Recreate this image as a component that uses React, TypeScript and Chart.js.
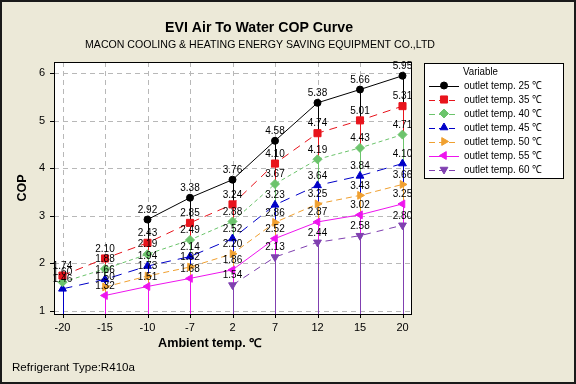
import { useEffect, useRef } from 'react';
import { Chart, registerables } from 'chart.js';
import { drawPoint } from 'chart.js/helpers';
Chart.register(...registerables);

// ---- data ----
const categories = ['-20', '-15', '-10', '-7', '2', '7', '12', '15', '20'];
const yTickValues = [1, 2, 3, 4, 5, 6];
const seriesNames = [
  'outlet temp. 25 ℃',
  'outlet temp. 35 ℃',
  'outlet temp. 40 ℃',
  'outlet temp. 45 ℃',
  'outlet temp. 50 ℃',
  'outlet temp. 55 ℃',
  'outlet temp. 60 ℃',
];
const cop25 = [null, null, 2.92, 3.38, 3.76, 4.58, 5.38, 5.66, 5.95];
const cop35 = [1.74, 2.10, 2.43, 2.85, 3.24, 4.10, 4.74, 5.01, 5.31];
const cop40 = [1.60, 1.88, 2.19, 2.49, 2.88, 3.67, 4.19, 4.43, 4.71];
const cop45 = [1.46, 1.66, 1.94, 2.14, 2.52, 3.23, 3.64, 3.84, 4.10];
const cop50 = [null, 1.50, 1.73, 1.92, 2.20, 2.86, 3.25, 3.43, 3.66];
const cop55 = [null, 1.32, 1.51, 1.68, 1.86, 2.52, 2.87, 3.02, 3.25];
const cop60 = [null, null, null, null, 1.54, 2.13, 2.44, 2.58, 2.80];
const allSeries = [cop25, cop35, cop40, cop45, cop50, cop55, cop60];

const titleText = 'EVI Air To Water COP Curve';
const subtitleText = 'MACON COOLING & HEATING ENERGY SAVING EQUIPMENT CO.,LTD';
const xTitle = 'Ambient temp. ℃';
const yTitle = 'COP';
const footerText = 'Refrigerant Type:R410a';
const legendTitle = 'Variable';

// ---- styles ----
const STYLE = {
  colors: ['#000000', '#E8141C', '#6CC46C', '#0000C8', '#F0A030', '#EE14EE', '#8040B0'],
  dashes: [[], [8, 6], [4, 3], [10, 7], [6, 4], [], [7, 6]],
  points: ['circle', 'rect', 'rectRot', 'triangle', 'triangle', 'triangle', 'triangle'],
  rotations: [0, 0, 0, 0, 90, -90, 180],
  radii: [3.5, 5, 4.5, 4.5, 4.5, 4.5, 4.5],
};

const FONT = '"Liberation Sans", Arial, sans-serif';

function drawText(ctx: CanvasRenderingContext2D, text: string, x: number, y: number, font: string,
  align: CanvasTextAlign, targetW?: number, color = '#000') {
  ctx.save();
  ctx.font = font;
  ctx.fillStyle = color;
  ctx.textBaseline = 'middle';
  ctx.textAlign = align;
  const w = ctx.measureText(text).width;
  const sx = targetW ? targetW / w : 1;
  ctx.translate(x, y);
  ctx.scale(sx, 1);
  ctx.fillText(text, 0, 0);
  ctx.restore();
}

const decorPlugin = {
  id: 'decor',
  beforeDraw(chart: any) {
    const { ctx, chartArea: a, width, height } = chart;
    ctx.save();
    ctx.fillStyle = '#ECE9D8';
    ctx.fillRect(0, 0, width, height);
    ctx.strokeStyle = '#1a1a1a';
    ctx.lineWidth = 2;
    ctx.strokeRect(1, 1, width - 2, height - 2);
    ctx.fillStyle = '#FFFFFF';
    ctx.fillRect(a.left, a.top, a.right - a.left, a.bottom - a.top);

    // grid
    const xs = chart.scales.x;
    const ys = chart.scales.y;
    ctx.strokeStyle = '#B8B8B8';
    ctx.lineWidth = 1;
    ctx.setLineDash([5, 4]);
    yTickValues.forEach((v) => {
      const py = Math.round(ys.getPixelForValue(v)) + 0.5;
      ctx.beginPath();
      ctx.moveTo(a.left, py);
      ctx.lineTo(a.right, py);
      ctx.stroke();
    });
    categories.forEach((_, i) => {
      const px = Math.round(xs.getPixelForValue(i)) + 0.5;
      ctx.beginPath();
      ctx.moveTo(px, a.top);
      ctx.lineTo(px, a.bottom);
      ctx.stroke();
    });
    ctx.setLineDash([]);

    // titles
    drawText(ctx, titleText, 259, 28, `bold 14px ${FONT}`, 'center', 188);
    drawText(ctx, subtitleText, 260, 45, `11px ${FONT}`, 'center', 350);
    drawText(ctx, xTitle, 210, 344, `bold 12px ${FONT}`, 'center', 104);
    drawText(ctx, footerText, 12, 368, `11px ${FONT}`, 'left', 123);
    ctx.save();
    ctx.translate(23, 188);
    ctx.rotate(-Math.PI / 2);
    drawText(ctx, yTitle, 0, 0, `bold 12px ${FONT}`, 'center', 27);
    ctx.restore();

    // tick labels
    yTickValues.forEach((v) => {
      drawText(ctx, String(v), 45, ys.getPixelForValue(v), `11px ${FONT}`, 'right');
    });
    categories.forEach((c, i) => {
      drawText(ctx, c, xs.getPixelForValue(i), 328, `11px ${FONT}`, 'center');
    });

    // legend
    const lx = 424, ly = 63, lw = 139, lh = 115;
    ctx.fillStyle = '#FFFFFF';
    ctx.fillRect(lx, ly, lw, lh);
    ctx.strokeStyle = '#000';
    ctx.lineWidth = 1;
    ctx.strokeRect(lx + 0.5, ly + 0.5, lw, lh);
    drawText(ctx, legendTitle, 463, 72, `11px ${FONT}`, 'left', 35);
    ctx.font = `11px ${FONT}`;
    const sx = 78 / ctx.measureText(seriesNames[0]).width;
    seriesNames.forEach((name, i) => {
      const ry = 85.5 + 14 * i;
      ctx.strokeStyle = STYLE.colors[i];
      ctx.fillStyle = STYLE.colors[i];
      ctx.setLineDash(STYLE.dashes[i].length ? [6, 4] : []);
      ctx.beginPath();
      ctx.moveTo(429, Math.round(ry) + 0.5);
      ctx.lineTo(459, Math.round(ry) + 0.5);
      ctx.stroke();
      ctx.setLineDash([]);
      drawPoint(ctx, { pointStyle: STYLE.points[i] as any, rotation: STYLE.rotations[i], radius: STYLE.radii[i], borderWidth: 1 }, 444, ry);
      const tw = ctx.measureText(name).width * sx;
      drawText(ctx, name, 464, ry, `11px ${FONT}`, 'left', tw);
    });
    ctx.restore();
  },
  beforeDatasetsDraw(chart: any) {
    const { ctx, chartArea: a } = chart;
    ctx.save();
    ctx.lineWidth = 1;
    chart.data.datasets.forEach((ds: any, d: number) => {
      const meta = chart.getDatasetMeta(d);
      ctx.strokeStyle = STYLE.colors[d];
      meta.data.forEach((pt: any) => {
        const px = Math.round(pt.x) + 0.5;
        ctx.beginPath();
        ctx.moveTo(px, pt.y);
        ctx.lineTo(px, a.bottom);
        ctx.stroke();
      });
    });
    ctx.restore();
  },
  afterDatasetsDraw(chart: any) {
    const { ctx, chartArea: a } = chart;
    ctx.save();
    // border
    ctx.strokeStyle = '#000';
    ctx.lineWidth = 1;
    ctx.strokeRect(Math.round(a.left) + 0.5, Math.round(a.top) + 0.5, Math.round(a.right - a.left), Math.round(a.bottom - a.top));
    const xs = chart.scales.x;
    const ys = chart.scales.y;
    ctx.beginPath();
    yTickValues.forEach((v) => {
      const py = Math.round(ys.getPixelForValue(v)) + 0.5;
      ctx.moveTo(a.left - 4, py);
      ctx.lineTo(a.left, py);
    });
    categories.forEach((_, i) => {
      const px = Math.round(xs.getPixelForValue(i)) + 0.5;
      ctx.moveTo(px, a.bottom);
      ctx.lineTo(px, a.bottom + 4);
    });
    ctx.stroke();
    // data labels
    chart.data.datasets.forEach((ds: any, d: number) => {
      const meta = chart.getDatasetMeta(d);
      meta.data.forEach((pt: any, j: number) => {
        const v = ds.data[j].y;
        drawText(ctx, v.toFixed(2), pt.x, pt.y - 9.5, `10px ${FONT}`, 'center');
      });
    });
    ctx.restore();
  },
};

export default function App() {
  const ref = useRef<HTMLCanvasElement>(null);
  useEffect(() => {
    if (!ref.current) return;
    const datasets = allSeries.map((arr, i) => ({
      label: seriesNames[i],
      data: arr
        .map((v, j) => (v == null ? null : { x: j, y: v }))
        .filter((p) => p !== null) as { x: number; y: number }[],
      borderColor: STYLE.colors[i],
      backgroundColor: STYLE.colors[i],
      borderWidth: 1,
      borderDash: STYLE.dashes[i],
      pointStyle: STYLE.points[i] as any,
      rotation: STYLE.rotations[i],
      pointRadius: STYLE.radii[i],
      pointBorderWidth: 1,
      tension: 0,
      clip: false as any,
    }));
    const chart = new Chart(ref.current, {
      type: 'line',
      data: { datasets },
      options: {
        animation: false,
        responsive: false,
        devicePixelRatio: 1,
        layout: { padding: { left: 54, right: 165, top: 62, bottom: 70 } },
        plugins: { legend: { display: false }, title: { display: false }, tooltip: { enabled: false } },
        scales: {
          x: { type: 'linear', display: false, min: -0.2, max: 8.2 },
          y: { type: 'linear', display: false, min: 0.93, max: 6.24 },
        },
      },
      plugins: [decorPlugin],
    });
    return () => chart.destroy();
  }, []);
  return (
    <div style={{ position: 'absolute', left: 0, top: 0, width: 576, height: 384 }}>
      <canvas ref={ref} width={576} height={384} style={{ display: 'block' }} />
    </div>
  );
}
